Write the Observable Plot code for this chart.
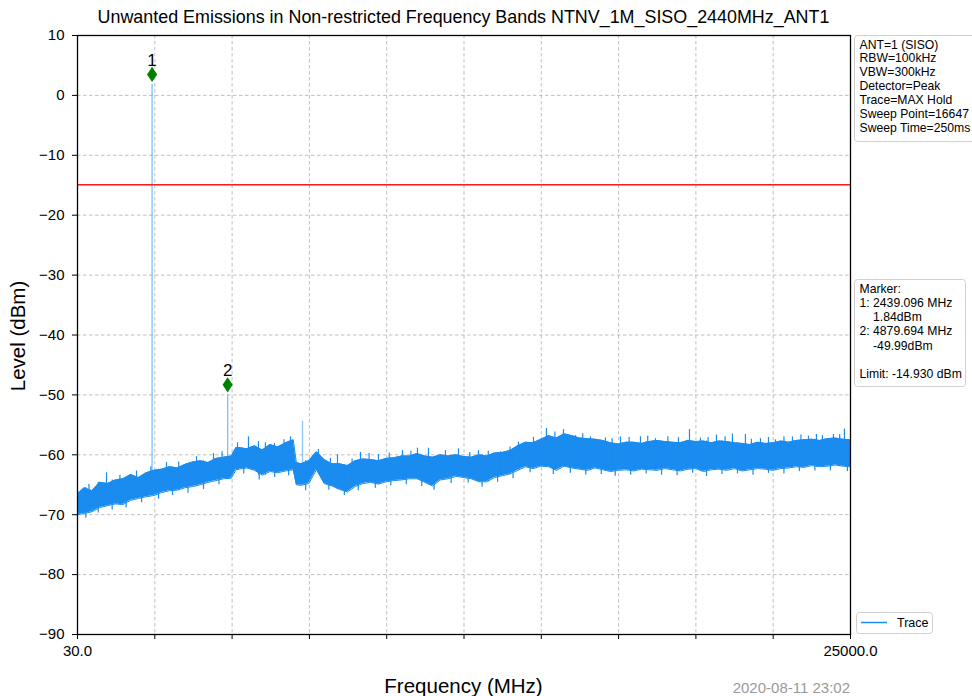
<!DOCTYPE html>
<html>
<head>
<meta charset="utf-8">
<script src="https://cdn.jsdelivr.net/npm/d3@7"></script>
<script src="https://cdn.jsdelivr.net/npm/@observablehq/plot@0.6"></script>
<style>
  html, body { margin: 0; padding: 0; background: #fff; }
  #chart svg { display: block; }
</style>
</head>
<body>
<div id="chart"></div>
<script>
// Spectrum sweep, 30 MHz – 25 GHz, max-hold trace envelope (dBm)
const freqGrid = [
  30, 250, 500, 750, 1000, 1250, 1500, 1750, 2000, 2250,
  2500, 2750, 3000, 3250, 3500, 3750, 4000, 4250, 4500, 4750,
  5000, 5150, 5250, 5500, 5750, 6000, 6250, 6500, 6750, 7000, 7100, 7250,
  7500, 7750, 8000, 8250, 8500, 8750, 9000, 9250, 9500, 9750,
  10000, 10250, 10500, 10750, 11000, 11250, 11500, 11750, 12000, 12250,
  12500, 12750, 13000, 13250, 13500, 13750, 14000, 14250, 14500, 14750,
  15000, 15250, 15500, 15750, 16000, 16250, 16500, 16750, 17000, 17250,
  17500, 17750, 18000, 18250, 18500, 18750, 19000, 19250, 19500, 19750,
  20000, 20250, 20500, 20750, 21000, 21250, 21500, 21750, 22000, 22250,
  22500, 22750, 23000, 23250, 23500, 23750, 24000, 24250, 24500, 24750,
  25000
];
const bandHigh = [
  -66.5, -65.5, -66.0, -64.6, -64.8, -64.2, -64.0, -63.3, -63.8, -63.0,
  -62.6, -62.4, -62.0, -62.2, -61.6, -61.2, -61.0, -61.3, -60.6, -60.4,
  -60.2, -58.8, -58.8, -59.0, -58.5, -59.2, -58.3, -58.7, -58.0, -57.5, -61.3, -61.5,
  -61.0, -59.5, -60.8, -61.5, -61.5, -61.8, -61.0, -60.7, -60.8, -61.0,
  -60.6, -60.5, -60.2, -60.2, -59.8, -60.2, -60.4, -60.0, -60.2, -60.0,
  -60.3, -60.4, -60.0, -60.2, -59.7, -59.6, -59.3, -58.5, -57.9, -58.0,
  -57.4, -56.8, -57.2, -56.5, -56.8, -57.2, -57.3, -57.4, -57.6, -58.0,
  -58.2, -57.9, -57.9, -58.1, -57.8, -57.6, -57.8, -57.9, -58.0, -57.6,
  -57.8, -57.7, -58.0, -57.7, -57.8, -58.0, -58.1, -58.3, -57.9, -58.1,
  -58.0, -57.7, -57.9, -57.6, -57.5, -57.4, -57.6, -57.3, -57.2, -57.4,
  -57.5
];
const bandLow = [
  -70.0, -69.8, -69.5, -68.8, -68.5, -68.2, -68.3, -67.6, -67.3, -67.0,
  -66.8, -66.3, -66.0, -65.9, -65.5, -65.3, -65.0, -64.6, -64.3, -64.0,
  -63.9, -62.5, -62.4, -62.2, -62.6, -63.4, -62.8, -63.0, -62.7, -62.5, -65.0, -65.1,
  -64.8, -62.5, -64.8, -65.2, -65.8, -66.2, -65.3, -64.8, -64.6, -64.9,
  -64.5, -64.3, -64.2, -64.0, -64.0, -64.6, -65.2, -64.2, -64.0, -63.6,
  -63.8, -64.0, -64.5, -64.5, -63.8, -63.5, -63.2, -62.6, -62.0, -62.3,
  -61.9, -62.0, -62.6, -61.9, -62.2, -62.4, -62.6, -62.2, -62.5, -62.8,
  -62.6, -62.5, -62.7, -62.4, -62.5, -62.6, -62.3, -62.5, -62.7, -62.4,
  -62.3, -62.8, -62.5, -62.4, -62.6, -62.3, -62.7, -62.5, -62.3, -62.4,
  -62.6, -62.3, -62.2, -62.0, -62.1, -61.8, -62.0, -61.9, -61.7, -61.9,
  -62.0
];

// Noise peaks rising above the band
const peakFreq = [
  400, 967, 1400, 1936, 2400, 2905, 3300, 3874, 4423, 4700,
  5200, 5553, 5876, 6100, 6393, 6700, 6910, 7814, 8200, 8428,
  8900, 9171, 9450, 9752, 10100, 10528, 10800, 11012, 11367, 11916,
  12336, 12700, 12982, 13300, 13693, 14000, 14274, 14759, 15179, 15450,
  15728, 16115, 16350, 16600, 17084, 17300, 17569, 17850, 18215, 18450,
  18700, 19100, 19443, 19798, 20153, 20400, 20670, 20950, 21186, 21606,
  21800, 22091, 22350, 22575, 22850, 23124, 23400, 23641, 23900, 24093,
  24449, 24650, 24804
];
const peakLevel = [
  -64.9, -63.0, -63.4, -62.7, -62.0, -61.3, -61.2, -60.3, -59.8, -59.5,
  -58.0, -57.0, -57.8, -58.0, -58.1, -57.5, -57.0, -59.1, -60.6, -60.0,
  -60.7, -59.6, -59.8, -60.0, -59.7, -59.3, -59.4, -58.9, -58.9, -59.3,
  -59.0, -59.6, -59.3, -59.4, -59.5, -58.7, -57.9, -57.1, -55.6, -56.2,
  -55.8, -56.8, -56.5, -57.0, -57.2, -57.3, -57.0, -57.1, -57.0, -56.9,
  -57.3, -57.0, -57.1, -55.8, -57.2, -57.1, -56.7, -57.0, -56.5, -56.6,
  -57.4, -57.3, -57.1, -57.5, -57.0, -57.0, -56.7, -56.9, -56.6, -56.8,
  -56.6, -56.6, -55.7
];

// Noise dips below the band
const dipFreq = [
  300, 700, 1150, 1600, 2100, 2650, 3100, 3600, 4100, 4600,
  5400, 5900, 6400, 6850, 7400, 8150, 8650, 9100, 9650, 10150,
  10650, 11150, 11550, 12100, 12650, 13100, 13600, 14100, 14650, 15400,
  15950, 16450, 16950, 17400, 17900, 18400, 18900, 19400, 19900, 20350,
  20850, 21350, 21850, 22350, 22850, 23350, 23850, 24350, 24900
];
const dipLevel = [
  -70.6, -69.7, -69.2, -68.9, -68.0, -67.4, -66.8, -66.4, -65.8, -65.0,
  -63.2, -64.2, -63.8, -63.5, -66.0, -65.9, -66.8, -66.0, -65.6, -65.2,
  -65.0, -65.3, -65.9, -64.8, -64.7, -65.4, -64.6, -64.0, -63.0, -63.3,
  -63.1, -63.4, -63.3, -63.6, -63.4, -63.2, -63.4, -63.5, -63.1, -63.6,
  -63.3, -63.2, -63.4, -63.1, -63.2, -62.8, -62.7, -62.7, -62.8
];

// Narrow single-bin spurs
const spurFreq = [7298];
const spurLevel = [-54.4];

// Markers and limit
const markerLabel = ["1", "2"];
const markerFreq = [2439.096, 4879.694];
const markerLevel = [1.84, -49.99];
const limitLevel = -14.93;

// Axis ticks
const xTicks = [30, 2527, 5024, 7521, 10018, 12515, 15012, 17509, 20006, 22503, 25000];
const yTicks = [-90, -80, -70, -60, -50, -40, -30, -20, -10, 0, 10];

// Annotation text
const titleText = "Unwanted Emissions in Non-restricted Frequency Bands NTNV_1M_SISO_2440MHz_ANT1";
const settingsLines = ["ANT=1 (SISO)", "RBW=100kHz", "VBW=300kHz", "Detector=Peak", "Trace=MAX Hold", "Sweep Point=16647", "Sweep Time=250ms"];
const markerLines = ["Marker:", "1: 2439.096 MHz", "    1.84dBm", "2: 4879.694 MHz", "    -49.99dBm", "", "Limit: -14.930 dBm"];
const timestamp = "2020-08-11 23:02";

const traceColor = "#1a8cf0";
const band = freqGrid.map((f, i) => ({f, hi: bandHigh[i], lo: bandLow[i]}));
const nearest = (arr, f) => arr[d3.minIndex(freqGrid, g => Math.abs(g - f))];
const peaks = peakFreq.map((f, i) => ({f, top: peakLevel[i], base: nearest(bandLow, f)}));
const dips = dipFreq.map((f, i) => ({f, bottom: dipLevel[i], base: nearest(bandHigh, f)}));
const spurs = spurFreq.map((f, i) => ({f, top: spurLevel[i], base: nearest(bandLow, f)}));
const markers = markerFreq.map((f, i) => ({f, level: markerLevel[i], label: markerLabel[i], base: nearest(bandLow, f)}));

const thinDiamond = {
  draw(ctx, size) {
    const r = Math.sqrt(size / Math.PI);
    const h = r * 1.1, w = r * 0.72;
    ctx.moveTo(0, -h); ctx.lineTo(w, 0); ctx.lineTo(0, h); ctx.lineTo(-w, 0); ctx.closePath();
  }
};

const minusFmt = d => d < 0 ? "\u2212" + Math.abs(d) : String(d);
const fontFamily = "'Liberation Sans', Arial, Helvetica, sans-serif";

const chart = Plot.plot({
  width: 972,
  height: 696,
  marginLeft: 77,
  marginRight: 122,
  marginTop: 35,
  marginBottom: 62,
  style: {fontFamily, fontSize: "15px", color: "#000", background: "#fff"},
  x: {domain: [30, 25000]},
  y: {domain: [-90, 10]},
  marks: [
    Plot.gridX(xTicks, {stroke: "#b0b0b0", strokeOpacity: 1, strokeWidth: 0.8, strokeDasharray: "3.5,2.5"}),
    Plot.gridY(yTicks, {stroke: "#b0b0b0", strokeOpacity: 1, strokeWidth: 0.8, strokeDasharray: "3.5,2.5"}),
    Plot.ruleX(markers, {x: "f", y1: "base", y2: "level", stroke: traceColor, strokeOpacity: 0.55, strokeWidth: 1.3}),
    Plot.ruleX(spurs, {x: "f", y1: "base", y2: "top", stroke: traceColor, strokeOpacity: 0.5, strokeWidth: 1.3}),
    Plot.areaY(band, {x: "f", y1: "lo", y2: "hi", fill: traceColor}),
    Plot.line(band, {x: "f", y: "hi", stroke: traceColor, strokeWidth: 1}),
    Plot.line(band, {x: "f", y: "lo", stroke: traceColor, strokeWidth: 1}),
    Plot.ruleX(peaks, {x: "f", y1: "base", y2: "top", stroke: traceColor, strokeWidth: 1.2}),
    Plot.ruleX(dips, {x: "f", y1: "base", y2: "bottom", stroke: traceColor, strokeWidth: 1.2}),
    Plot.ruleY([limitLevel], {stroke: "#ff1a1a", strokeWidth: 1.5}),
    Plot.dot(markers, {x: "f", y: "level", dy: -10, symbol: thinDiamond, r: 7, fill: "#008000", stroke: "none"}),
    Plot.text(markers, {x: "f", y: "level", text: "label", dy: -24, fontSize: 17, fill: "#000"}),
    Plot.frame({stroke: "#000", strokeWidth: 1.3}),
    Plot.axisY(yTicks, {tickSize: 5, tickPadding: 8, tickFormat: minusFmt, label: null, fontSize: 15}),
    Plot.axisX(xTicks, {tickSize: 5, tickPadding: 6, label: null, fontSize: 15,
      tickFormat: d => (d === 30 || d === 25000) ? d.toFixed(1) : ""})
  ]
});

document.getElementById("chart").appendChild(chart);

// Title, axis labels, side panels and timestamp
const svg = d3.select(chart);
const g = svg.append("g").attr("font-family", fontFamily).attr("fill", "#000");

g.append("text").attr("x", 463.5).attr("y", 23).attr("text-anchor", "middle")
  .attr("font-size", 17.9).text(titleText);
g.append("text").attr("transform", "translate(25,336) rotate(-90)").attr("text-anchor", "middle")
  .attr("font-size", 20.5).text("Level (dBm)");
g.append("text").attr("x", 463.5).attr("y", 693).attr("text-anchor", "middle")
  .attr("font-size", 20.5).text("Frequency (MHz)");
g.append("text").attr("x", 850).attr("y", 693).attr("text-anchor", "end")
  .attr("font-size", 15).attr("fill", "#999").text(timestamp);

function panel(x, y, w, h, lines, lineStep) {
  g.append("rect").attr("x", x).attr("y", y).attr("width", w).attr("height", h)
    .attr("rx", 3).attr("fill", "#fff").attr("stroke", "#d0d0d0").attr("stroke-width", 1);
  const t = g.append("text").attr("font-size", 12.2).attr("text-anchor", "start")
    .attr("xml:space", "preserve").style("white-space", "pre");
  lines.forEach((s, i) => {
    t.append("tspan").attr("x", x + 5).attr("y", y + 13 + i * lineStep).text(s);
  });
}
panel(854.5, 35.5, 130, 106, settingsLines, 13.9);
panel(854.5, 279.5, 111, 107, markerLines, 14.3);

// Legend
g.append("rect").attr("x", 856.5).attr("y", 612.5).attr("width", 76).attr("height", 21)
  .attr("rx", 3).attr("fill", "#fff").attr("stroke", "#d0d0d0");
g.append("line").attr("x1", 861).attr("x2", 887).attr("y1", 622.5).attr("y2", 622.5)
  .attr("stroke", traceColor).attr("stroke-width", 1.5);
g.append("text").attr("x", 897).attr("y", 627).attr("font-size", 12.5)
  .attr("text-anchor", "start").text("Trace");
</script>
</body>
</html>
